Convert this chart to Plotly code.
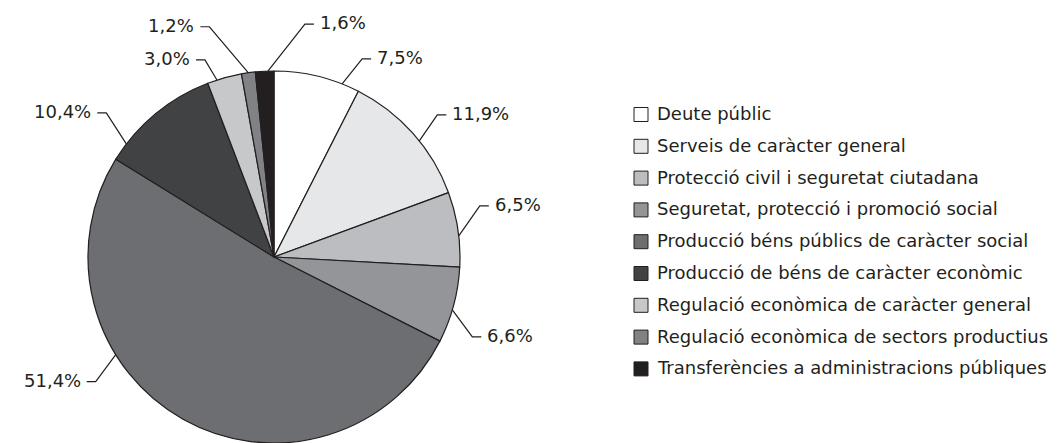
import math
import plotly.graph_objects as go

labels = ["Deute públic",
          "Serveis de caràcter general",
          "Protecció civil i seguretat ciutadana",
          "Seguretat, protecció i promoció social",
          "Producció béns públics de caràcter social",
          "Producció de béns de caràcter econòmic",
          "Regulació econòmica de caràcter general",
          "Regulació econòmica de sectors productius",
          "Transferències a administracions públiques"]
values = [7.5, 11.9, 6.5, 6.6, 51.4, 10.4, 3.0, 1.2, 1.6]
value_text = ["7,5%", "11,9%", "6,5%", "6,6%", "51,4%", "10,4%", "3,0%", "1,2%", "1,6%"]

colors = ["#ffffff", "#e6e7e8", "#bcbdc0", "#939598", "#6d6e71",
          "#414244", "#c7c8ca", "#808285", "#231f20"]
ink = "#231f20"
font = "DejaVu Sans"

# page body has an 8px margin, so the figure is drawn 8px smaller
OFF = 8
W, H = 1060 - OFF, 443 - OFF
# pie placement (screen pixels)
cx, cy, R = 274, 257, 186

# leader lines: angle nudge from slice middle, elbow offset (px)
nudge = [8, 3, 2, 1.5, 29, -13, -2.4, 0, 1]
elbow = [(20, -25), (18, -26), (21, -30), (20, 27), (-20, 27),
         (-20, -31), (-12, -20), (-39, -46), (37, -47)]


def px(x, y):
    return (x - OFF) / W, 1 - (y - OFF) / H


fig = go.Figure(go.Pie(
    labels=labels, values=values, sort=False, direction="clockwise",
    rotation=0, textinfo="none", hoverinfo="label+percent",
    marker=dict(colors=colors, line=dict(color=ink, width=1.2)),
    domain=dict(x=[px(cx - R, 0)[0], px(cx + R, 0)[0]],
                y=[px(0, cy + R)[1], px(0, cy - R)[1]]),
    showlegend=False,
))

shapes = []
annotations = []
total = sum(values)
cum = 0
for i, v in enumerate(values):
    mid = (cum + v / 2) / total * 360 + nudge[i]
    cum += v
    a = math.radians(mid)
    x0, y0 = cx + R * math.sin(a), cy - R * math.cos(a)
    x1, y1 = x0 + elbow[i][0], y0 + elbow[i][1]
    side = 1 if elbow[i][0] > 0 else -1
    x2 = x1 + side * 9
    p0, p1, p2 = px(x0, y0), px(x1, y1), px(x2, y1)
    shapes.append(dict(type="path", xref="paper", yref="paper",
                       path=f"M {p0[0]},{p0[1]} L {p1[0]},{p1[1]} L {p2[0]},{p2[1]}",
                       line=dict(color=ink, width=1.2)))
    tx, ty = px(x2 + side * 4, y1 - 1.5)
    annotations.append(dict(x=tx, y=ty, xref="paper", yref="paper",
                            text=value_text[i], showarrow=False,
                            xanchor="left" if side > 0 else "right", yanchor="middle",
                            font=dict(family=font, size=18, color=ink)))

# legend drawn by hand
ly0, lstep = 114.5, 31.8
for i, lab in enumerate(labels):
    yc = ly0 + i * lstep
    a0, b0 = px(634, yc - 7)
    a1, b1 = px(648, yc + 7)
    shapes.append(dict(type="rect", xref="paper", yref="paper",
                       x0=a0, x1=a1, y0=b1, y1=b0, fillcolor=colors[i],
                       line=dict(color=ink, width=1)))
    tx, ty = px(655, yc - 1)
    annotations.append(dict(x=tx, y=ty, xref="paper", yref="paper", text=lab,
                            showarrow=False, xanchor="left", yanchor="middle",
                            font=dict(family=font, size=18, color=ink)))

fig.update_layout(
    width=W, height=H,
    margin=dict(l=0, r=0, t=0, b=0),
    paper_bgcolor="white", plot_bgcolor="white",
    shapes=shapes, annotations=annotations,
)

fig.write_html("out.html")
